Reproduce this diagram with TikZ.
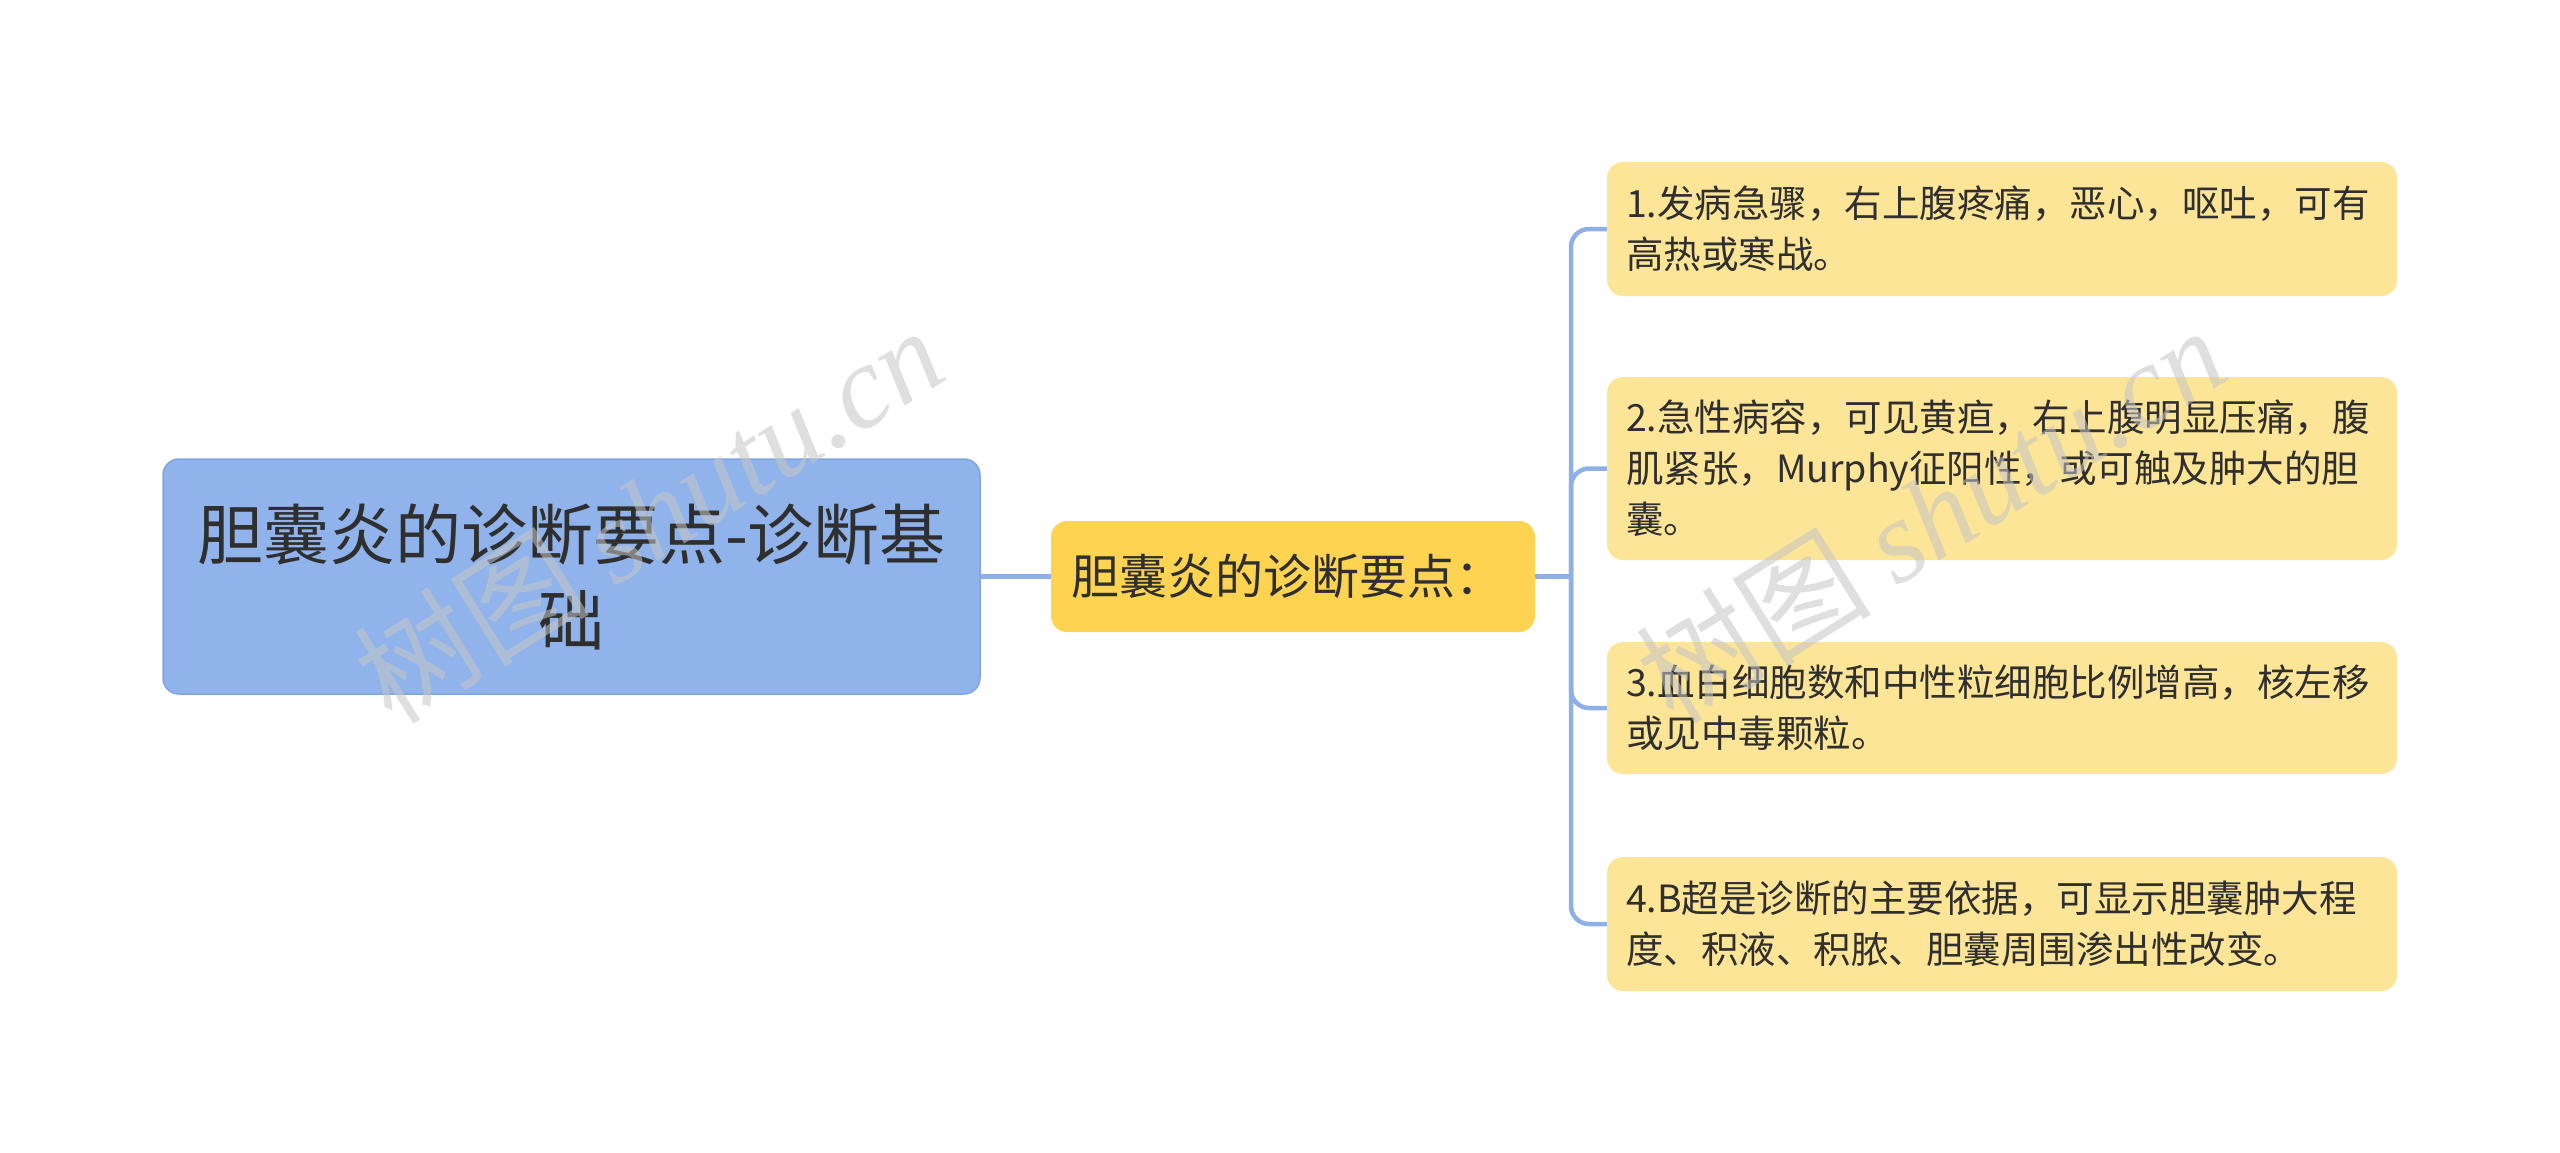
\documentclass[tikz,border=0pt]{standalone}
\usepackage{fontspec}
\setmainfont{Noto Sans CJK SC}
\newfontfamily\wmserif{Liberation Serif}
\definecolor{rootfill}{HTML}{8FB3EA}
\definecolor{rootdraw}{HTML}{7FA5E0}
\definecolor{midfill}{HTML}{FDD352}
\definecolor{leaffill}{HTML}{FDE598}
\definecolor{linkc}{HTML}{8FB0E6}
\definecolor{txt}{HTML}{2F2F2F}
\tikzset{
  rootbox/.style={fill=rootfill,draw=rootdraw,line width=1.5pt,rounded corners=16pt,
    minimum width=817pt,minimum height=235pt,inner sep=0pt,align=center,text=txt,
    font=\fontsize{66}{86}\selectfont},
  midbox/.style={fill=midfill,rounded corners=16pt,minimum width=484pt,minimum height=111pt,
    inner sep=0pt,text=txt,font=\fontsize{48}{60}\selectfont},
  leafbox/.style={fill=leaffill,rounded corners=16pt,text width=752pt,inner xsep=19pt,inner ysep=0pt,
    align=left,text=txt,font=\fontsize{37.5}{51}\selectfont},
  conn/.style={draw=linkc,line width=4.5pt,rounded corners=18pt},
  wm/.style={text=gray!45,opacity=0.55,rotate=32,font=\fontsize{118}{118}\selectfont}
}
\begin{document}
\begin{tikzpicture}[x=1pt,y=-1pt]
\useasboundingbox[fill=white] (0,0) rectangle (2560,1153);
\node[rootbox] (root) at (571.5,576.5) {胆囊炎的诊断要点-诊断基\\础};
\node[midbox] (mid) at (1293,576.5) {胆囊炎的诊断要点：\hspace*{0.25em}};
\node[leafbox,minimum height=134pt] (l1) at (2002,229) {1.发病急骤，右上腹疼痛，恶心，呕吐，可有\\高热或寒战。};
\node[leafbox,minimum height=183pt] (l2) at (2002,468.5) {2.急性病容，可见黄疸，右上腹明显压痛，腹\\肌紧张，Murphy征阳性，或可触及肿大的胆\\囊。};
\node[leafbox,minimum height=132pt] (l3) at (2002,708) {3.血白细胞数和中性粒细胞比例增高，核左移\\或见中毒颗粒。};
\node[leafbox,minimum height=134pt] (l4) at (2002,924) {4.B超是诊断的主要依据，可显示胆囊肿大程\\度、积液、积脓、胆囊周围渗出性改变。};
\coordinate (trunk) at (1571,576.5);
\draw[conn] (root.east) -- (mid.west);
\draw[conn] (mid.east) -- (trunk);
\draw[conn] (trunk) |- (l1.west);
\draw[conn] (trunk) |- (l2.west);
\draw[conn] (trunk) |- (l3.west);
\draw[conn] (trunk) |- (l4.west);
% watermarks
\node[wm] (wm1) at (648,514) {树图 {\wmserif\itshape shutu.cn}};
\node[wm] (wm2) at (1930,514) {树图 {\wmserif\itshape shutu.cn}};
\end{tikzpicture}
\end{document}
